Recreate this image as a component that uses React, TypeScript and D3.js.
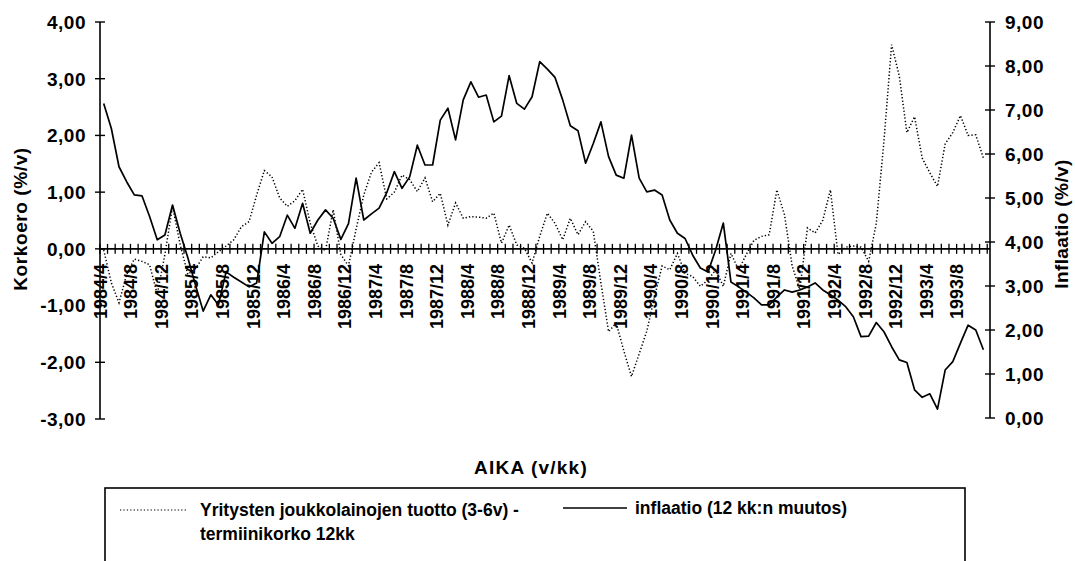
import React from "react";
import * as d3 from "d3";

// ---- DATA ----
const startYear = 1984;
const startMonth = 4;
const monthCount = 116;
const months: string[] = Array.from({ length: monthCount }, (_, i) => {
  const m = startMonth - 1 + i;
  return `${startYear + Math.floor(m / 12)}/${(m % 12) + 1}`;
});

// Korkoero (left axis): Yritysten joukkolainojen tuotto (3-6v) - termiinikorko 12kk
const korkoero: number[] = [
  -0.02, -0.6, -0.95, -0.45, -0.18, -0.22, -0.28, -0.8, -0.1, 0.75,
  0.07, -0.45, -0.35, -0.14, -0.16, -0.05, 0.05, 0.16, 0.39, 0.48,
  0.95, 1.38, 1.27, 0.9, 0.75, 0.85, 1.05, 0.45, 0.05, -0.03,
  0.69, -0.1, -0.3, 0.35, 0.95, 1.35, 1.52, 0.88, 1.0, 1.3,
  1.22, 1.01, 1.25, 0.83, 0.98, 0.42, 0.81, 0.54, 0.57, 0.56,
  0.54, 0.63, 0.1, 0.42, 0.07, 0.01, -0.25, 0.22, 0.63, 0.45,
  0.16, 0.54, 0.25, 0.48, 0.31, -0.6, -1.46, -1.31, -1.8, -2.25,
  -1.85, -1.45, -0.85, -0.3, -0.37, -0.08, -0.43, -0.49, -0.66, -0.55,
  -0.37, -0.66, -0.08, -0.37, -0.1, 0.15, 0.22, 0.25, 1.04, 0.6,
  -0.3, -0.72, 0.37, 0.28, 0.5, 1.04, -0.1, 0.03, 0.05, 0.03,
  -0.22, 0.45, 1.9, 3.6, 3.05, 2.05, 2.33, 1.6, 1.34, 1.1,
  1.85, 2.05, 2.35, 2.0, 2.01, 1.6,
];

// Inflaatio (right axis): 12 kk:n muutos
const inflaatio: number[] = [
  7.15, 6.58, 5.71, 5.37, 5.07, 5.05, 4.58, 4.05, 4.16, 4.84,
  4.2, 3.64, 3.02, 2.43, 2.8, 2.57, 3.32, 3.2, 3.09, 2.98,
  3.07, 4.23, 3.97, 4.12, 4.61, 4.31, 4.88, 4.2, 4.5, 4.73,
  4.54, 4.06, 4.42, 5.45, 4.5, 4.64, 4.77, 5.12, 5.6, 5.22,
  5.48, 6.2, 5.75, 5.75, 6.77, 7.04, 6.32, 7.23, 7.64, 7.29,
  7.34, 6.73, 6.86, 7.78, 7.15, 7.02, 7.3, 8.1, 7.93, 7.74,
  7.23, 6.64, 6.53, 5.79, 6.24, 6.73, 5.94, 5.52, 5.45, 6.43,
  5.45, 5.14, 5.18, 5.07, 4.5, 4.2, 4.08, 3.7, 3.41, 3.32,
  3.82, 4.43, 3.09, 2.98, 2.86, 2.73, 2.57, 2.57, 2.75, 2.91,
  2.86, 2.91, 2.98, 3.07, 2.91, 2.8, 2.68, 2.53, 2.3, 1.85,
  1.86, 2.17, 1.96, 1.62, 1.32, 1.26, 0.64, 0.47, 0.55, 0.2,
  1.09, 1.28, 1.7, 2.11, 2.0, 1.55,
];

const leftTicks: number[] = [-3, -2, -1, 0, 1, 2, 3, 4];
const rightTicks: number[] = [0, 1, 2, 3, 4, 5, 6, 7, 8, 9];
const labelEvery = 4;

const leftTitle = "Korkoero (%/v)";
const rightTitle = "Inflaatio (%/v)";
const xTitle = "AIKA (v/kk)";
const legend1a = "Yritysten joukkolainojen tuotto (3-6v) -";
const legend1b = "termiinikorko 12kk";
const legend2 = "inflaatio (12 kk:n muutos)";

// ---- CHART ----
const W = 1075;
const H = 561;
const FONT = "'Liberation Sans', Arial, Helvetica, sans-serif";

const fi = d3.formatLocale({
  decimal: ",",
  thousands: " ",
  grouping: [3],
  currency: ["", ""],
  minus: "-",
});
const fmt = fi.format(".2f");

export default function App() {
  const plotLeft = 100;
  const plotRight = 990;
  const x = d3.scalePoint<string>().domain(months).range([103.7, 983.4]);
  const step = x.step();
  const yL = d3.scaleLinear().domain([-3, 4]).range([419, 22]);
  const yR = d3.scaleLinear().domain([0, 9]).range([418, 22]);
  const zeroY = yL(0);

  const lineL = d3
    .line<number>()
    .x((_, i) => x(months[i]) as number)
    .y((d) => yL(d));
  const lineR = d3
    .line<number>()
    .x((_, i) => x(months[i]) as number)
    .y((d) => yR(d));

  const boundaryTicks = d3.range(months.length + 1).map(
    (k) => (x(months[0]) as number) - step / 2 + k * step
  );

  const textStyle: React.CSSProperties = {
    fontFamily: FONT,
    fontWeight: 700,
    fill: "#000",
  };

  return (
    <svg
      width={W}
      height={H}
      viewBox={`0 0 ${W} ${H}`}
      style={{ position: "absolute", left: 0, top: 0, background: "#fff" }}
    >
      <rect x={0} y={0} width={W} height={H} fill="#fff" />

      {/* left axis */}
      <line x1={plotLeft} x2={plotLeft} y1={yL(4)} y2={yL(-3)} stroke="#000" strokeWidth={1.6} />
      {leftTicks.map((t) => (
        <g key={"l" + t}>
          <line x1={plotLeft - 5} x2={plotLeft + 5} y1={yL(t)} y2={yL(t)} stroke="#000" strokeWidth={1.4} />
          <text x={86} y={yL(t)} dy="0.36em" textAnchor="end" fontSize={19} letterSpacing={0.5} style={textStyle}>
            {fmt(t)}
          </text>
        </g>
      ))}

      {/* right axis */}
      <line x1={plotRight} x2={plotRight} y1={yR(9)} y2={yR(0)} stroke="#000" strokeWidth={1.6} />
      {rightTicks.map((t) => (
        <g key={"r" + t}>
          <line x1={plotRight - 5} x2={plotRight + 5} y1={yR(t)} y2={yR(t)} stroke="#000" strokeWidth={1.4} />
          <text x={1005} y={yR(t)} dy="0.36em" textAnchor="start" fontSize={19} letterSpacing={0.5} style={textStyle}>
            {fmt(t)}
          </text>
        </g>
      ))}

      {/* zero line with monthly ticks */}
      <line x1={plotLeft} x2={plotRight} y1={zeroY} y2={zeroY} stroke="#000" strokeWidth={1.8} />
      {boundaryTicks.map((bx, k) => (
        <line key={"t" + k} x1={bx} x2={bx} y1={zeroY - 5} y2={zeroY + 5} stroke="#000" strokeWidth={1.3} />
      ))}

      {/* category labels */}
      {months.map((m, i) =>
        i % labelEvery === 0 ? (
          <text
            key={"c" + m}
            transform={`translate(${x(m)},264) rotate(-90)`}
            dy="0.16em"
            textAnchor="end"
            fontSize={18}
            style={textStyle}
          >
            {m}
          </text>
        ) : null
      )}

      {/* series */}
      <path d={lineL(korkoero) || ""} fill="none" stroke="#000" strokeWidth={1.5} strokeDasharray="1.3 2.1" />
      <path d={lineR(inflaatio) || ""} fill="none" stroke="#000" strokeWidth={1.7} strokeLinejoin="round" />

      {/* axis titles */}
      <text transform={`translate(20,219) rotate(-90)`} dy="0.35em" textAnchor="middle" fontSize={19} letterSpacing={0.6} style={textStyle}>
        {leftTitle}
      </text>
      <text transform={`translate(1061,224) rotate(-90)`} dy="0.35em" textAnchor="middle" fontSize={19} letterSpacing={0.4} style={textStyle}>
        {rightTitle}
      </text>
      <text x={531} y={467} dy="0.35em" textAnchor="middle" fontSize={19} letterSpacing={1.2} style={textStyle}>
        {xTitle}
      </text>

      {/* legend */}
      <rect x={105} y={488} width={860} height={100} fill="none" stroke="#000" strokeWidth={1.6} />
      <line x1={120} x2={188} y1={510} y2={510} stroke="#000" strokeWidth={1.2} strokeDasharray="1.3 2.1" />
      <text x={200} y={516} fontSize={17.5} style={textStyle}>
        {legend1a}
      </text>
      <text x={200} y={540} fontSize={17.5} style={textStyle}>
        {legend1b}
      </text>
      <line x1={563} x2={627} y1={508} y2={508} stroke="#000" strokeWidth={1.6} />
      <text x={635} y={514} fontSize={17.5} style={textStyle}>
        {legend2}
      </text>
    </svg>
  );
}
